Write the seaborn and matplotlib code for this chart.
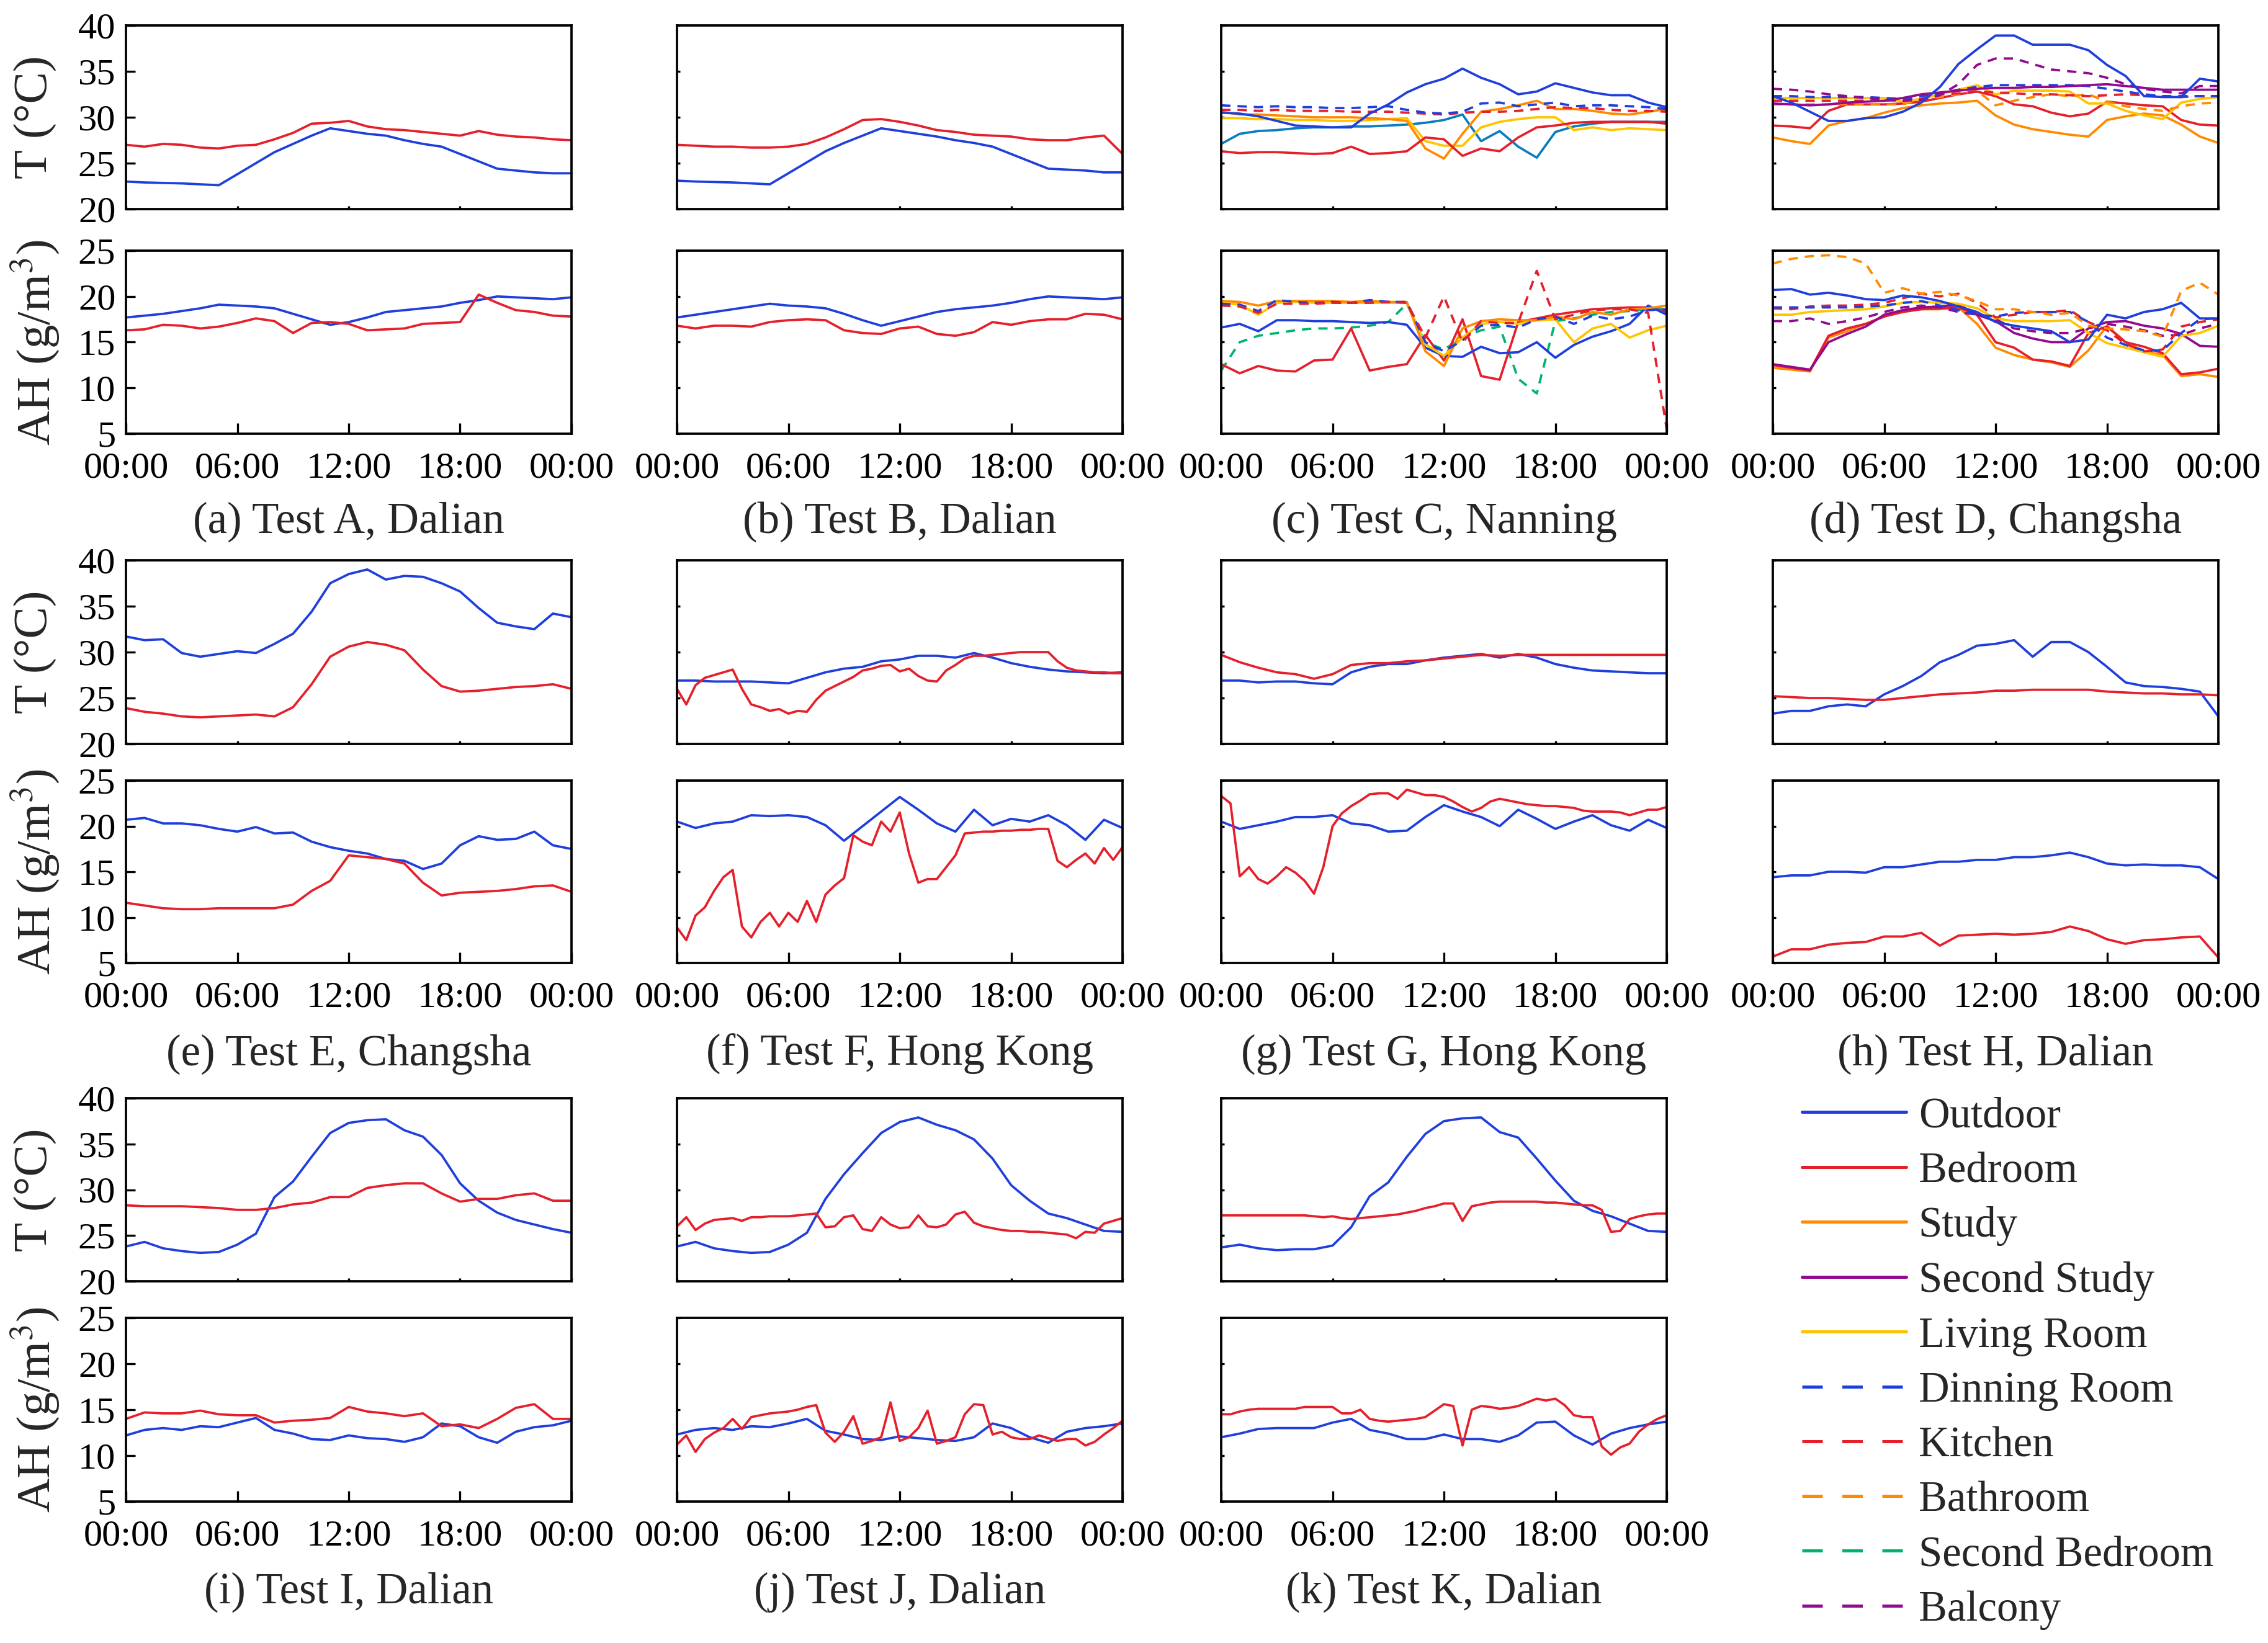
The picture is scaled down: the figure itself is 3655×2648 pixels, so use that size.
import numpy as np
import seaborn as sns
import matplotlib
matplotlib.use("Agg")
import matplotlib.pyplot as plt
from matplotlib.lines import Line2D

# ---- data (hourly values 00:00..24:00; 49-value lists are half-hourly) ----
a_t_out = [23.0, 22.9, 22.85, 22.8, 22.7, 22.6, 23.8, 25.0, 26.2, 27.1, 28.0, 28.8, 28.5, 28.2, 28.0, 27.5, 27.1, 26.8, 26.0, 25.2, 24.4, 24.2, 24.0, 23.9, 23.9]
a_t_bed = [27.0, 26.8, 27.1, 27.0, 26.7, 26.6, 26.9, 27.0, 27.6, 28.3, 29.3, 29.4, 29.6, 29.0, 28.7, 28.6, 28.4, 28.2, 28.0, 28.5, 28.1, 27.9, 27.8, 27.6, 27.5]
a_ah_out = [17.7, 17.9, 18.1, 18.4, 18.7, 19.1, 19.0, 18.9, 18.7, 18.1, 17.5, 16.9, 17.2, 17.7, 18.3, 18.5, 18.7, 18.9, 19.3, 19.6, 20.0, 19.9, 19.8, 19.7, 19.9]
a_ah_bed = [16.3, 16.4, 16.9, 16.8, 16.5, 16.7, 17.1, 17.6, 17.3, 16.0, 17.1, 17.2, 17.0, 16.3, 16.4, 16.5, 17.0, 17.1, 17.2, 20.2, 19.3, 18.5, 18.3, 17.9, 17.8]

b_t_out = [23.1, 23.0, 22.95, 22.9, 22.8, 22.7, 23.9, 25.1, 26.3, 27.2, 28.0, 28.8, 28.5, 28.2, 27.9, 27.5, 27.2, 26.8, 26.0, 25.2, 24.4, 24.3, 24.2, 24.0, 24.0]
b_t_bed = [27.0, 26.9, 26.8, 26.8, 26.7, 26.7, 26.8, 27.1, 27.8, 28.7, 29.7, 29.8, 29.5, 29.1, 28.6, 28.4, 28.1, 28.0, 27.9, 27.6, 27.5, 27.5, 27.8, 28.0, 26.0]
b_ah_out = [17.7, 18.0, 18.3, 18.6, 18.9, 19.2, 19.0, 18.9, 18.7, 18.1, 17.4, 16.8, 17.3, 17.8, 18.3, 18.6, 18.8, 19.0, 19.3, 19.7, 20.0, 19.9, 19.8, 19.7, 19.9]
b_ah_bed = [16.8, 16.5, 16.8, 16.8, 16.7, 17.2, 17.4, 17.5, 17.4, 16.3, 16.0, 15.9, 16.5, 16.7, 15.9, 15.7, 16.1, 17.2, 16.9, 17.3, 17.5, 17.5, 18.1, 18.0, 17.5]

c_t_out = [30.5, 30.4, 30.1, 29.6, 29.1, 29.0, 28.9, 28.9, 30.4, 31.4, 32.7, 33.6, 34.2, 35.3, 34.3, 33.6, 32.5, 32.8, 33.7, 33.2, 32.7, 32.4, 32.4, 31.6, 31.1]
c_t_bed = [26.3, 26.1, 26.2, 26.2, 26.1, 26.0, 26.1, 26.8, 26.0, 26.1, 26.3, 27.8, 27.6, 25.8, 26.6, 26.3, 27.8, 28.9, 29.1, 29.4, 29.5, 29.5, 29.5, 29.5, 29.3]
c_t_din = [31.3, 31.2, 31.1, 31.2, 31.1, 31.1, 31.0, 31.0, 31.1, 31.2, 30.8, 30.5, 30.4, 30.6, 31.5, 31.6, 31.2, 31.4, 31.6, 31.2, 31.3, 31.3, 31.2, 31.1, 30.9]
c_t_kit = [30.8, 30.8, 30.7, 30.8, 30.7, 30.7, 30.7, 30.6, 30.6, 30.6, 30.5, 30.4, 30.3, 30.5, 30.6, 30.6, 30.7, 30.9, 31.1, 31.0, 31.0, 30.8, 30.7, 30.7, 30.6]
c_t_stu = [30.6, 30.3, 30.3, 30.2, 30.1, 30.0, 30.0, 30.0, 29.9, 29.8, 29.6, 26.6, 25.5, 28.2, 30.6, 30.9, 31.3, 31.8, 30.9, 30.9, 30.7, 30.4, 30.3, 30.6, 30.9]
c_t_liv = [29.9, 29.9, 29.8, 29.8, 29.7, 29.7, 29.6, 29.6, 29.7, 29.8, 29.9, 27.4, 26.9, 26.9, 28.9, 29.5, 29.8, 30.0, 30.0, 28.6, 28.9, 28.6, 28.8, 28.7, 28.6]
c_t_ext = [27.1, 28.2, 28.5, 28.6, 28.8, 28.9, 28.9, 29.0, 29.0, 29.1, 29.2, 29.4, 29.7, 30.3, 27.4, 28.5, 26.8, 25.6, 28.4, 29.0, 29.3, 29.5, 29.5, 29.5, 29.5]
c_ah_out = [16.6, 17.0, 16.2, 17.4, 17.4, 17.3, 17.3, 17.2, 17.1, 17.2, 16.9, 14.4, 13.5, 13.4, 14.5, 13.8, 13.9, 15.0, 13.3, 14.7, 15.6, 16.2, 17.0, 19.0, 18.0]
c_ah_bed = [12.6, 11.6, 12.4, 11.9, 11.8, 13.0, 13.1, 16.5, 11.9, 12.3, 12.6, 15.8, 13.0, 17.5, 11.3, 10.9, 17.2, 17.6, 18.0, 18.3, 18.6, 18.7, 18.8, 18.8, 18.3]
c_ah_din = [19.2, 19.1, 18.4, 19.6, 19.4, 19.3, 19.4, 19.3, 19.6, 19.4, 19.4, 15.0, 14.0, 15.2, 16.8, 16.9, 16.6, 17.5, 17.8, 17.0, 17.9, 17.5, 17.8, 18.5, 18.6]
c_ah_kit = [19.0, 18.9, 18.2, 19.2, 19.2, 19.2, 19.3, 19.3, 19.3, 19.4, 19.3, 15.5, 20.0, 15.0, 17.3, 17.1, 17.1, 22.8, 17.5, 18.0, 18.5, 18.6, 18.6, 18.2, 5.5]
c_ah_stu = [19.5, 19.4, 19.0, 19.5, 19.5, 19.5, 19.5, 19.4, 19.5, 19.4, 19.4, 14.0, 12.4, 16.5, 17.3, 17.5, 17.4, 17.4, 17.8, 17.5, 18.3, 18.0, 18.6, 18.7, 19.0]
c_ah_liv = [19.3, 19.1, 18.0, 19.3, 19.4, 19.3, 19.3, 19.3, 19.3, 19.3, 19.3, 14.8, 13.5, 15.5, 17.0, 17.2, 17.0, 17.4, 17.5, 15.0, 16.5, 17.0, 15.5, 16.3, 16.8]
c_ah_sbd = [11.9, 15.0, 15.7, 16.0, 16.3, 16.5, 16.5, 16.6, 16.8, 17.2, 19.2, 15.0, 14.2, 15.5, 16.3, 16.7, 11.0, 9.4, 17.3, 17.6, 18.0, 18.3, 18.4, 18.6, 18.7]

d_t_out = [32.3, 31.6, 30.6, 29.6, 29.6, 29.9, 30.0, 30.6, 31.6, 33.3, 35.8, 37.4, 38.9, 38.9, 37.9, 37.9, 37.9, 37.3, 35.7, 34.5, 32.3, 32.2, 32.2, 34.2, 33.9]
d_t_bal = [33.1, 33.0, 32.8, 32.5, 32.3, 32.1, 31.9, 31.8, 31.9, 32.4, 33.6, 35.7, 36.4, 36.4, 35.8, 35.2, 35.0, 34.8, 34.3, 33.6, 33.1, 32.8, 32.6, 33.4, 33.4]
d_t_sst = [31.5, 31.4, 31.3, 31.4, 31.6, 31.7, 31.8, 32.1, 32.5, 32.7, 32.9, 33.1, 33.2, 33.2, 33.3, 33.3, 33.4, 33.5, 33.6, 33.4, 33.2, 33.0, 33.0, 33.0, 33.0]
d_t_din = [32.3, 32.3, 32.2, 32.2, 32.2, 32.2, 32.1, 32.0, 32.3, 32.6, 33.0, 33.3, 33.5, 33.5, 33.5, 33.5, 33.5, 33.4, 33.1, 32.8, 32.5, 32.3, 32.3, 32.3, 32.3]
d_t_kit = [31.8, 31.8, 31.8, 31.8, 31.8, 31.8, 31.8, 31.9, 32.0, 32.5, 32.6, 32.8, 32.7, 32.6, 32.5, 32.5, 32.4, 32.3, 32.4, 32.5, 32.4, 32.3, 32.2, 32.3, 32.3]
d_t_bat = [31.4, 31.4, 31.4, 31.4, 31.4, 31.4, 31.4, 31.4, 32.0, 32.2, 32.5, 32.9, 31.3, 31.8, 32.2, 32.5, 32.3, 32.5, 31.7, 31.2, 30.9, 30.7, 31.2, 31.5, 31.6]
d_t_liv = [32.1, 32.1, 32.1, 32.1, 32.1, 32.1, 32.1, 31.7, 32.0, 32.5, 33.0, 33.5, 32.5, 32.9, 32.9, 32.9, 32.8, 31.5, 31.5, 30.7, 30.2, 29.8, 31.6, 32.0, 32.2]
d_t_bed = [29.1, 29.0, 28.8, 30.7, 31.4, 31.4, 31.4, 31.5, 31.7, 32.1, 32.5, 32.8, 32.3, 31.4, 31.2, 30.5, 30.1, 30.4, 31.7, 31.5, 31.3, 31.2, 29.7, 29.2, 29.1]
d_t_stu = [27.8, 27.4, 27.1, 29.1, 29.6, 29.9, 30.5, 31.0, 31.3, 31.5, 31.6, 31.8, 30.2, 29.2, 28.7, 28.4, 28.1, 27.9, 29.7, 30.1, 30.4, 30.2, 29.2, 27.9, 27.2]
d_ah_bat = [23.6, 24.1, 24.4, 24.5, 24.3, 23.6, 20.4, 20.9, 20.3, 20.5, 20.1, 19.5, 18.6, 18.6, 18.3, 18.0, 18.2, 16.8, 16.5, 16.4, 16.2, 15.6, 20.6, 21.5, 20.2]
d_ah_out = [20.7, 20.8, 20.2, 20.4, 20.1, 19.7, 19.6, 20.1, 19.9, 19.5, 18.9, 18.3, 17.2, 16.8, 16.5, 16.2, 15.0, 15.3, 18.0, 17.6, 18.3, 18.6, 19.3, 17.6, 17.6]
d_ah_din = [18.8, 18.8, 18.8, 18.8, 18.8, 18.9, 19.0, 19.3, 19.5, 19.0, 18.5, 18.0, 17.8, 18.2, 18.3, 18.3, 18.3, 17.2, 15.5, 14.7, 14.1, 14.1, 16.0, 17.5, 17.6]
d_ah_kit = [18.7, 18.6, 18.9, 19.0, 19.0, 19.1, 19.3, 19.8, 20.3, 20.0, 20.3, 19.3, 17.7, 18.0, 18.3, 18.3, 18.5, 17.2, 16.3, 14.8, 14.0, 14.2, 16.7, 17.2, 17.5]
d_ah_liv = [18.0, 18.0, 18.3, 18.4, 18.5, 18.6, 18.9, 19.3, 19.4, 19.3, 19.2, 18.7, 17.6, 17.3, 17.3, 17.3, 17.4, 16.0, 14.9, 14.4, 13.9, 13.4, 15.7, 16.0, 16.8]
d_ah_sst = [12.6, 12.3, 12.0, 15.0, 15.9, 16.7, 18.0, 18.5, 18.8, 18.9, 19.1, 18.0, 17.3, 16.0, 15.4, 15.0, 15.0, 16.5, 17.2, 17.3, 16.8, 16.5, 15.9, 14.6, 14.5]
d_ah_bed = [12.5, 12.2, 11.9, 15.7, 16.5, 17.0, 17.8, 18.3, 18.6, 18.7, 18.8, 18.0, 15.0, 14.4, 13.1, 12.9, 12.4, 16.0, 16.7, 15.0, 14.5, 13.8, 11.5, 11.7, 12.1]
d_ah_stu = [12.2, 12.0, 11.8, 15.5, 16.2, 17.0, 17.8, 18.5, 18.6, 18.6, 18.8, 17.0, 14.4, 13.6, 13.1, 12.8, 12.3, 14.1, 16.8, 15.0, 14.0, 13.6, 11.3, 11.5, 11.2]
d_ah_bal = [17.3, 17.3, 17.6, 17.0, 17.3, 17.7, 18.3, 18.8, 19.0, 18.8, 18.3, 18.0, 17.5, 16.5, 16.2, 16.0, 16.0, 16.5, 17.0, 16.7, 16.3, 15.7, 15.8, 16.5, 17.0]

e_t_out = [31.7, 31.3, 31.4, 29.9, 29.5, 29.8, 30.1, 29.9, 30.9, 32.0, 34.4, 37.5, 38.5, 39.0, 37.9, 38.3, 38.2, 37.5, 36.6, 34.8, 33.2, 32.8, 32.5, 34.2, 33.8]
e_t_bed = [23.9, 23.5, 23.3, 23.0, 22.9, 23.0, 23.1, 23.2, 23.0, 24.0, 26.5, 29.5, 30.6, 31.1, 30.8, 30.2, 28.1, 26.3, 25.7, 25.8, 26.0, 26.2, 26.3, 26.5, 26.0]
e_ah_out = [20.7, 20.9, 20.3, 20.3, 20.1, 19.7, 19.4, 19.9, 19.2, 19.3, 18.3, 17.7, 17.3, 17.0, 16.4, 16.2, 15.3, 15.9, 17.9, 18.9, 18.5, 18.6, 19.4, 17.9, 17.5]
e_ah_bed = [11.6, 11.3, 11.0, 10.9, 10.9, 11.0, 11.0, 11.0, 11.0, 11.4, 12.9, 14.0, 16.8, 16.6, 16.4, 15.9, 13.8, 12.4, 12.7, 12.8, 12.9, 13.1, 13.4, 13.5, 12.8]

f_t_out = [26.9, 26.9, 26.8, 26.8, 26.8, 26.7, 26.6, 27.2, 27.8, 28.2, 28.4, 29.0, 29.2, 29.6, 29.6, 29.4, 29.9, 29.4, 28.8, 28.4, 28.1, 27.9, 27.8, 27.7, 27.8]
f_t_bed = [26.0, 24.3, 26.4, 27.2, 27.5, 27.8, 28.1, 26.0, 24.3, 24.0, 23.6, 23.8, 23.3, 23.6, 23.5, 24.8, 25.8,
           26.3, 26.8, 27.3, 28.0, 28.2, 28.5, 28.6, 27.9, 28.2, 27.4, 26.9, 26.8, 28.0, 28.6, 29.3, 29.6,
           29.6, 29.7, 29.8, 29.9, 30.0, 30.0, 30.0, 30.0, 29.0, 28.3, 28.0, 27.9, 27.8, 27.8, 27.7, 27.7]
f_ah_out = [20.5, 19.8, 20.3, 20.5, 21.2, 21.1, 21.2, 21.0, 20.1, 18.4, 20.0, 21.6, 23.2, 21.8, 20.3, 19.4, 21.8, 20.1, 20.8, 20.5, 21.2, 20.1, 18.5, 20.7, 19.8]
f_ah_bed = [8.9, 7.5, 10.2, 11.1, 12.9, 14.4, 15.2, 9.0, 7.8, 9.5, 10.5, 9.0, 10.5, 9.5, 11.8, 9.5, 12.5,
            13.5, 14.3, 19.0, 18.3, 17.9, 20.5, 19.4, 21.5, 17.0, 13.8, 14.2, 14.2, 15.5, 16.8, 19.2, 19.3,
            19.4, 19.4, 19.5, 19.5, 19.6, 19.6, 19.7, 19.7, 16.2, 15.5, 16.3, 17.0, 15.9, 17.6, 16.3, 17.7]

g_t_out = [26.9, 26.9, 26.7, 26.8, 26.8, 26.6, 26.5, 27.8, 28.4, 28.7, 28.7, 29.1, 29.4, 29.6, 29.8, 29.4, 29.8, 29.4, 28.7, 28.3, 28.0, 27.9, 27.8, 27.7, 27.7]
g_t_bed = [29.7, 28.9, 28.3, 27.8, 27.6, 27.1, 27.6, 28.6, 28.8, 28.8, 29.0, 29.1, 29.3, 29.5, 29.7, 29.6, 29.7, 29.7, 29.7, 29.7, 29.7, 29.7, 29.7, 29.7, 29.7]
g_ah_out = [20.5, 19.7, 20.1, 20.5, 21.0, 21.0, 21.2, 20.3, 20.1, 19.4, 19.5, 21.0, 22.3, 21.6, 21.0, 20.0, 21.8, 20.8, 19.7, 20.5, 21.2, 20.1, 19.5, 20.7, 19.8]
g_ah_bed = [23.3, 22.5, 14.5, 15.5, 14.2, 13.7, 14.5, 15.5, 14.9, 14.0, 12.6, 15.5, 20.0, 21.4, 22.2, 22.8, 23.5,
            23.6, 23.6, 23.0, 24.0, 23.7, 23.4, 23.4, 23.2, 22.7, 22.1, 21.6, 22.0, 22.7, 23.0, 22.8, 22.6,
            22.4, 22.3, 22.2, 22.2, 22.1, 22.0, 21.7, 21.6, 21.6, 21.6, 21.5, 21.2, 21.5, 21.8, 21.8, 22.1]

h_t_out = [23.3, 23.6, 23.6, 24.1, 24.3, 24.1, 25.4, 26.3, 27.4, 28.9, 29.7, 30.7, 30.9, 31.3, 29.5, 31.1, 31.1, 30.0, 28.4, 26.7, 26.3, 26.2, 26.0, 25.7, 23.0]
h_t_bed = [25.2, 25.1, 25.0, 25.0, 24.9, 24.8, 24.8, 25.0, 25.2, 25.4, 25.5, 25.6, 25.8, 25.8, 25.9, 25.9, 25.9, 25.9, 25.7, 25.6, 25.5, 25.5, 25.4, 25.4, 25.3]
h_ah_out = [14.4, 14.6, 14.6, 15.0, 15.0, 14.9, 15.5, 15.5, 15.8, 16.1, 16.1, 16.3, 16.3, 16.6, 16.6, 16.8, 17.1, 16.6, 15.9, 15.7, 15.8, 15.7, 15.7, 15.5, 14.2]
h_ah_bed = [5.7, 6.5, 6.5, 7.0, 7.2, 7.3, 7.9, 7.9, 8.3, 6.9, 8.0, 8.1, 8.2, 8.1, 8.2, 8.4, 9.0, 8.5, 7.6, 7.1, 7.5, 7.6, 7.8, 7.9, 5.6]

i_t_out = [23.8, 24.3, 23.6, 23.3, 23.1, 23.2, 24.0, 25.2, 29.2, 30.9, 33.6, 36.2, 37.3, 37.6, 37.7, 36.5, 35.8, 33.8, 30.7, 28.8, 27.5, 26.7, 26.2, 25.7, 25.3]
i_t_bed = [28.3, 28.2, 28.2, 28.2, 28.1, 28.0, 27.8, 27.8, 28.0, 28.4, 28.6, 29.2, 29.2, 30.2, 30.5, 30.7, 30.7, 29.6, 28.7, 29.0, 29.0, 29.4, 29.6, 28.8, 28.8]
i_ah_out = [12.2, 12.8, 13.0, 12.8, 13.2, 13.1, 13.6, 14.1, 12.8, 12.4, 11.8, 11.7, 12.2, 11.9, 11.8, 11.5, 12.0, 13.5, 13.2, 12.0, 11.4, 12.6, 13.1, 13.3, 13.8]
i_ah_bed = [14.0, 14.7, 14.6, 14.6, 14.9, 14.5, 14.4, 14.4, 13.6, 13.8, 13.9, 14.1, 15.3, 14.8, 14.6, 14.3, 14.6, 13.2, 13.4, 13.0, 14.0, 15.2, 15.6, 14.0, 14.0]

j_t_out = [23.8, 24.3, 23.6, 23.3, 23.1, 23.2, 24.0, 25.3, 29.0, 31.7, 34.0, 36.2, 37.4, 37.9, 37.1, 36.5, 35.5, 33.4, 30.5, 28.8, 27.4, 26.9, 26.2, 25.5, 25.4]
j_t_bed = [26.0, 27.0, 25.6, 26.3, 26.7, 26.8, 26.9, 26.6, 27.0, 27.0, 27.1, 27.1, 27.1, 27.2, 27.3, 27.4, 25.9,
           26.0, 27.0, 27.2, 25.7, 25.5, 27.0, 26.2, 25.8, 25.9, 27.2, 26.0, 25.9, 26.2, 27.3, 27.6, 26.4,
           26.0, 25.8, 25.6, 25.5, 25.5, 25.4, 25.4, 25.3, 25.2, 25.1, 24.7, 25.4, 25.3, 26.3, 26.6, 26.9]
j_ah_out = [12.3, 12.8, 13.0, 12.8, 13.2, 13.1, 13.5, 14.0, 12.7, 12.3, 11.8, 11.7, 12.1, 11.9, 11.7, 11.6, 12.0, 13.5, 13.0, 12.0, 11.4, 12.6, 13.0, 13.2, 13.5]
j_ah_bed = [11.2, 12.2, 10.4, 11.8, 12.5, 13.0, 14.0, 12.9, 14.2, 14.4, 14.6, 14.7, 14.8, 15.0, 15.3, 15.5, 12.5,
            11.5, 12.6, 14.3, 11.3, 11.6, 12.0, 15.8, 11.6, 12.0, 13.0, 14.9, 11.3, 11.6, 12.0, 14.5, 15.6,
            15.5, 12.3, 12.6, 12.0, 11.8, 11.8, 12.2, 11.9, 11.6, 11.8, 11.8, 11.1, 11.5, 12.3, 13.0, 13.8]

k_t_out = [23.7, 24.0, 23.6, 23.4, 23.5, 23.5, 23.9, 25.9, 29.3, 30.8, 33.6, 36.1, 37.5, 37.8, 37.9, 36.3, 35.7, 33.4, 31.0, 28.8, 27.7, 27.1, 26.3, 25.5, 25.4]
k_t_bed = [27.2, 27.2, 27.2, 27.2, 27.2, 27.2, 27.2, 27.2, 27.2, 27.2, 27.1, 27.0, 27.1, 26.9, 26.8, 26.9, 27.0,
           27.1, 27.2, 27.3, 27.5, 27.7, 28.0, 28.2, 28.5, 28.5, 26.6, 28.2, 28.4, 28.6, 28.7, 28.7, 28.7,
           28.7, 28.7, 28.6, 28.6, 28.5, 28.4, 28.3, 28.3, 27.8, 25.4, 25.5, 26.8, 27.1, 27.3, 27.4, 27.4]
k_ah_out = [12.0, 12.4, 12.9, 13.0, 13.0, 13.0, 13.6, 14.0, 12.8, 12.4, 11.8, 11.8, 12.3, 11.8, 11.8, 11.5, 12.2, 13.6, 13.7, 12.2, 11.2, 12.4, 13.0, 13.4, 13.7]
k_ah_bed = [14.5, 14.5, 14.8, 15.0, 15.1, 15.1, 15.1, 15.1, 15.1, 15.3, 15.3, 15.3, 15.3, 14.6, 14.6, 15.0, 14.0,
            13.8, 13.7, 13.8, 13.9, 14.0, 14.2, 14.9, 15.6, 15.4, 11.1, 15.0, 15.4, 15.3, 15.1, 15.2, 15.4,
            15.8, 16.2, 16.0, 16.2, 15.5, 14.4, 14.2, 14.2, 11.0, 10.1, 10.9, 11.3, 12.6, 13.4, 14.0, 14.4]

captions = ["(a) Test A, Dalian", "(b) Test B, Dalian", "(c) Test C, Nanning", "(d) Test D, Changsha",
            "(e) Test E, Changsha", "(f) Test F, Hong Kong", "(g) Test G, Hong Kong", "(h) Test H, Dalian",
            "(i) Test I, Dalian", "(j) Test J, Dalian", "(k) Test K, Dalian"]
legend_names = ["Outdoor", "Bedroom", "Study", "Second Study", "Living Room",
                "Dinning Room", "Kitchen", "Bathroom", "Second Bedroom", "Balcony"]
x_ticks = [0, 6, 12, 18, 24]
x_labels = ["00:00", "06:00", "12:00", "18:00", "00:00"]
t_ticks = [20, 25, 30, 35, 40]
ah_ticks = [5, 10, 15, 20, 25]

# ---- styling ----
BLUE, RED, ORANGE, PURPLE, YELLOW, GREEN = "#1f3fdc", "#e5202b", "#ff8a00", "#920a8e", "#ffc400", "#00b46e"
STYLE = {
    "Outdoor": (BLUE, False), "Bedroom": (RED, False), "Study": (ORANGE, False),
    "Second Study": (PURPLE, False), "Living Room": (YELLOW, False),
    "Dinning Room": (BLUE, True), "Kitchen": (RED, True), "Bathroom": (ORANGE, True),
    "Second Bedroom": (GREEN, True), "Balcony": (PURPLE, True), "Other": ("#0a7cc0", False),
}
LW = 0.9
PLOT_DASH = (0, (4.0, 3.0))

panels = [
    ([("Outdoor", a_t_out), ("Bedroom", a_t_bed)], [("Outdoor", a_ah_out), ("Bedroom", a_ah_bed)]),
    ([("Outdoor", b_t_out), ("Bedroom", b_t_bed)], [("Outdoor", b_ah_out), ("Bedroom", b_ah_bed)]),
    ([("Other", c_t_ext), ("Living Room", c_t_liv), ("Study", c_t_stu), ("Bedroom", c_t_bed),
      ("Kitchen", c_t_kit), ("Dinning Room", c_t_din), ("Outdoor", c_t_out)],
     [("Second Bedroom", c_ah_sbd), ("Bedroom", c_ah_bed), ("Outdoor", c_ah_out), ("Living Room", c_ah_liv),
      ("Study", c_ah_stu), ("Dinning Room", c_ah_din), ("Kitchen", c_ah_kit)]),
    ([("Study", d_t_stu), ("Bedroom", d_t_bed), ("Living Room", d_t_liv), ("Bathroom", d_t_bat),
      ("Kitchen", d_t_kit), ("Dinning Room", d_t_din), ("Second Study", d_t_sst), ("Balcony", d_t_bal),
      ("Outdoor", d_t_out)],
     [("Study", d_ah_stu), ("Bedroom", d_ah_bed), ("Second Study", d_ah_sst), ("Living Room", d_ah_liv),
      ("Balcony", d_ah_bal), ("Kitchen", d_ah_kit), ("Dinning Room", d_ah_din), ("Outdoor", d_ah_out),
      ("Bathroom", d_ah_bat)]),
    ([("Outdoor", e_t_out), ("Bedroom", e_t_bed)], [("Outdoor", e_ah_out), ("Bedroom", e_ah_bed)]),
    ([("Outdoor", f_t_out), ("Bedroom", f_t_bed)], [("Outdoor", f_ah_out), ("Bedroom", f_ah_bed)]),
    ([("Outdoor", g_t_out), ("Bedroom", g_t_bed)], [("Outdoor", g_ah_out), ("Bedroom", g_ah_bed)]),
    ([("Outdoor", h_t_out), ("Bedroom", h_t_bed)], [("Outdoor", h_ah_out), ("Bedroom", h_ah_bed)]),
    ([("Outdoor", i_t_out), ("Bedroom", i_t_bed)], [("Outdoor", i_ah_out), ("Bedroom", i_ah_bed)]),
    ([("Outdoor", j_t_out), ("Bedroom", j_t_bed)], [("Outdoor", j_ah_out), ("Bedroom", j_ah_bed)]),
    ([("Outdoor", k_t_out), ("Bedroom", k_t_bed)], [("Outdoor", k_ah_out), ("Bedroom", k_ah_bed)]),
]

sns.set_style("ticks")
plt.rcParams["font.family"] = ["Liberation Serif", "DejaVu Serif"]
plt.rcParams["mathtext.fontset"] = "stix"
plt.rcParams["axes.linewidth"] = 0.9

W, H = 3655, 2648
fig = plt.figure(figsize=(W / 300, H / 300), dpi=300)

col_left = [203, 1091, 1968, 2857]
col_w = 718
rows_t = [(41, 337), (903, 1199), (1770, 2065)]
rows_ah = [(404, 699), (1258, 1552), (2124, 2420)]
caption_y = [841, 1699, 2566]


def px_axes(left, top, bottom):
    return fig.add_axes([left / W, 1 - bottom / H, col_w / W, (bottom - top) / H])


def draw(ax, series, ylim, yticks, first_col, is_ah):
    for name, vals in series:
        color, dashed = STYLE[name]
        hrs = np.linspace(0, 24, len(vals))
        sns.lineplot(x=hrs, y=vals, ax=ax, color=color, linewidth=LW,
                     linestyle=PLOT_DASH if dashed else "-", estimator=None, sort=False)
    ax.set_xlim(0, 24)
    ax.set_ylim(*ylim)
    ax.set_xticks(x_ticks)
    ax.set_yticks(yticks)
    ax.set_xlabel("")
    ax.set_ylabel("")
    for s in ax.spines.values():
        s.set_visible(True)
        s.set_linewidth(0.9)
        s.set_color("black")
    ax.tick_params(axis="both", direction="in", width=0.8, colors="black", labelsize=14.5)
    ax.tick_params(axis="x", length=4.0 if is_ah else 1.3, pad=7)
    ax.tick_params(axis="y", length=3.6 if first_col else 1.2, pad=4)
    if is_ah:
        ax.set_xticklabels(x_labels)
    else:
        ax.set_xticklabels([])
    if first_col:
        ax.set_yticklabels([str(v) for v in yticks])
    else:
        ax.set_yticklabels([])


for idx, (t_series, ah_series) in enumerate(panels):
    row, col = divmod(idx, 4)
    left = col_left[col]
    ax_t = px_axes(left, *rows_t[row])
    ax_ah = px_axes(left, *rows_ah[row])
    draw(ax_t, t_series, (20, 40), t_ticks, col == 0, False)
    draw(ax_ah, ah_series, (5, 25), ah_ticks, col == 0, True)
    fig.text((left + col_w / 2) / W, 1 - caption_y[row] / H, captions[idx],
             ha="center", va="center", fontsize=17)
    if col == 0:
        t_mid = sum(rows_t[row]) / 2
        ah_mid = sum(rows_ah[row]) / 2
        fig.text(56 / W, 1 - t_mid / H, "T (°C)", rotation=90, ha="center", va="center", fontsize=18.5)
        fig.text(56 / W, 1 - ah_mid / H, "AH (g/m$^{3}$)", rotation=90, ha="center", va="center",
                 fontsize=18.5)

handles = []
for name in legend_names:
    color, dashed = STYLE[name]
    handles.append(Line2D([0], [0], color=color, linewidth=1.2,
                          linestyle=(0, (6.6, 6.3)) if dashed else "-"))
fig.legend(handles, legend_names, loc="upper left", bbox_to_anchor=(2904 / W, 1 - 1768 / H),
           frameon=False, fontsize=16.5, handlelength=2.45, handletextpad=0.28,
           labelspacing=0.36, borderpad=0, borderaxespad=0)

fig.savefig("out.png", dpi=300)
